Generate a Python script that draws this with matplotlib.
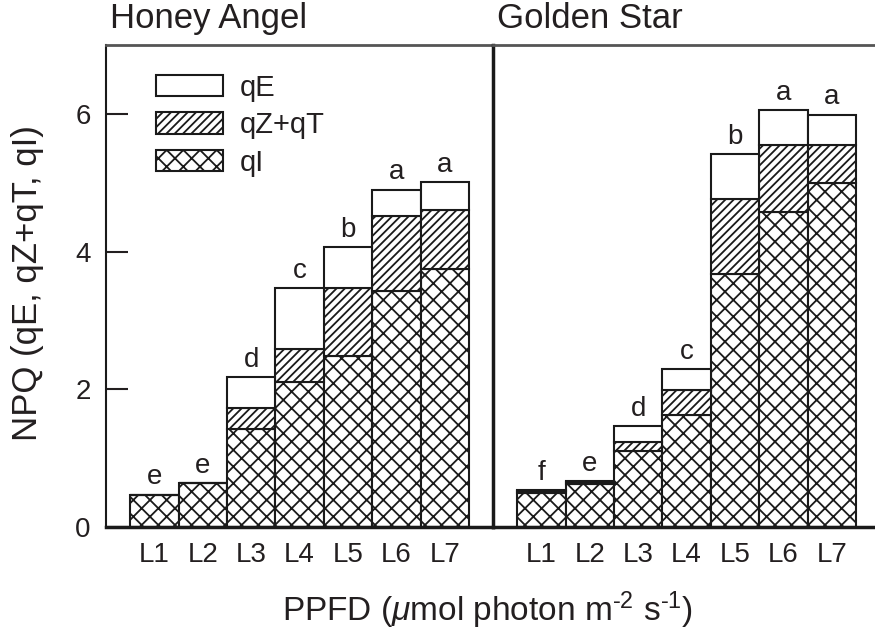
import numpy as np
from matplotlib import pyplot as plt
from matplotlib.patches import Patch

plt.rcParams["font.family"] = ["Liberation Sans", "DejaVu Sans"]
plt.rcParams["mathtext.fontset"] = "custom"
plt.rcParams["mathtext.rm"] = "Liberation Sans"
plt.rcParams["mathtext.it"] = "Liberation Sans:italic"
plt.rcParams["hatch.linewidth"] = 1.3

levels = ["L1", "L2", "L3", "L4", "L5", "L6", "L7"]

# Honey Angel components
ha_qi = [0.47, 0.64, 1.42, 2.11, 2.48, 3.43, 3.75]
ha_qzqt = [0.0, 0.0, 0.31, 0.47, 0.99, 1.09, 0.85]
ha_qe = [0.0, 0.0, 0.45, 0.89, 0.60, 0.38, 0.41]
ha_letters = ["e", "e", "d", "c", "b", "a", "a"]

# Golden Star components
gs_qi = [0.50, 0.62, 1.10, 1.62, 3.68, 4.58, 4.99]
gs_qzqt = [0.03, 0.04, 0.14, 0.37, 1.08, 0.97, 0.56]
gs_qe = [0.01, 0.01, 0.23, 0.30, 0.65, 0.50, 0.44]
gs_letters = ["f", "e", "d", "c", "b", "a", "a"]

TEXT = "#231f20"
EDGE = "#1a1a1a"

fig = plt.figure(figsize=(8.75, 6.44), dpi=100)
ax1 = fig.add_axes([106 / 875, 1 - 527 / 644, 387 / 875, 482 / 644])
ax2 = fig.add_axes([493 / 875, 1 - 527 / 644, 382 / 875, 482 / 644])


def draw_panel(ax, qi, qzqt, qe, letters, title):
    x = np.arange(1, len(levels) + 1)
    qi = np.array(qi)
    qzqt = np.array(qzqt)
    qe = np.array(qe)
    kw = dict(width=1.0, edgecolor=EDGE, linewidth=1.5)
    ax.bar(x, qi, color="white", hatch="xx", **kw)
    ax.bar(x, qzqt, bottom=qi, color="white", hatch="////", **kw)
    ax.bar(x, qe, bottom=qi + qzqt, color="white", **kw)
    tops = qi + qzqt + qe
    for xi, top, lab in zip(x, tops, letters):
        ax.annotate(lab, (xi, top), xytext=(0, 3), textcoords="offset points",
                    ha="center", va="bottom", fontsize=20, color=TEXT)
    ax.set_ylim(0, 7)
    ax.set_xticks(x)
    ax.set_xticklabels(levels)
    ax.tick_params(axis="x", length=0, pad=11, labelsize=20, colors=TEXT)
    ax.text(0.01, 1.02, title, transform=ax.transAxes, ha="left", va="bottom",
            fontsize=25, color=TEXT)
    ax.spines["top"].set_color("#555555")
    ax.spines["top"].set_linewidth(2)
    ax.spines["right"].set_visible(False)
    ax.spines["bottom"].set_linewidth(2.5)
    ax.spines["bottom"].set_color(EDGE)


draw_panel(ax1, ha_qi, ha_qzqt, ha_qe, ha_letters, "Honey Angel")
draw_panel(ax2, gs_qi, gs_qzqt, gs_qe, gs_letters, "Golden Star")

ax1.set_xlim(0, 387 / 48.4)
ax2.set_xlim(0, 382 / 48.4)

ax1.set_yticks([0, 2, 4, 6])
ax1.tick_params(axis="y", direction="in", length=16, width=1.5, pad=11,
                labelsize=20, colors=TEXT)
ax1.spines["left"].set_linewidth(1.5)
ax1.spines["left"].set_color(EDGE)

ax2.set_yticks([])
ax2.spines["left"].set_linewidth(2.5)
ax2.spines["left"].set_color(EDGE)

handles = [
    Patch(facecolor="white", edgecolor=EDGE, linewidth=1.5, label="qE"),
    Patch(facecolor="white", edgecolor=EDGE, linewidth=1.5, hatch="////", label="qZ+qT"),
    Patch(facecolor="white", edgecolor=EDGE, linewidth=1.5, hatch="xx", label="qI"),
]
leg = ax1.legend(handles=handles, loc="upper left", bbox_to_anchor=(0.10, 0.965),
                 frameon=False, fontsize=21, handlelength=2.3, handleheight=0.75,
                 labelspacing=0.33, handletextpad=0.55, borderaxespad=0)
for t in leg.get_texts():
    t.set_color(TEXT)

fig.text(28 / 875, 1 - 283 / 644, "NPQ (qE, qZ+qT, qI)", rotation=90,
         ha="center", va="center", fontsize=25, color=TEXT)
fig.text(487 / 875, 1 - 610 / 644,
         r"PPFD ($\mu$mol photon m$^{\text{-2}}$ s$^{\text{-1}}$)",
         ha="center", va="center", fontsize=24, color=TEXT)

plt.savefig("out.png", dpi=100)
plt.close()
